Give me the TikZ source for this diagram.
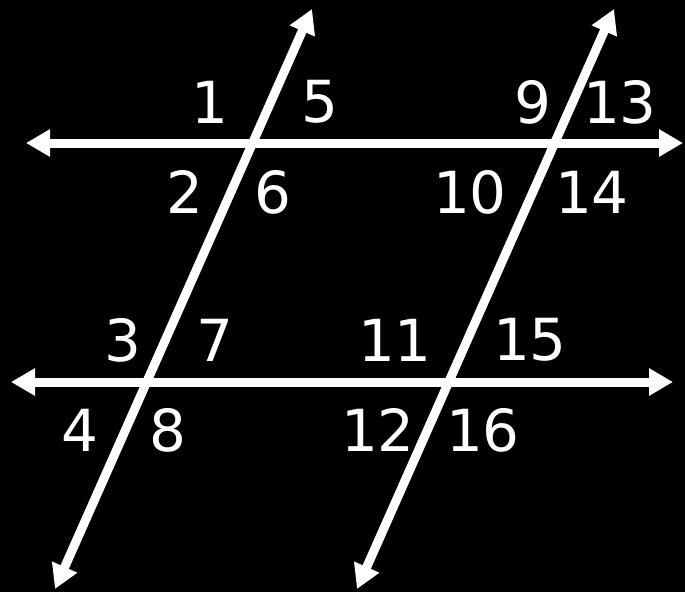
\documentclass[tikz,border=0pt]{standalone}
\usepackage{fontspec}
\setmainfont{DejaVu Sans}
\usetikzlibrary{arrows.meta}
\begin{document}
\begin{tikzpicture}[x=1pt,y=-1pt,
  ray/.style={draw=white,line width=9pt,{Triangle[length=24pt,width=26pt]}-{Triangle[length=24pt,width=26pt]}},
  lbl/.style={text=white,font=\fontsize{58}{58}\selectfont,inner sep=0pt,anchor=center}]
\fill[black] (0,0) rectangle (685,592);
\useasboundingbox (0,0) rectangle (685,592);
% end points
\coordinate (hTl) at (26,143);
\coordinate (hTr) at (683,143);
\coordinate (hBl) at (11,382);
\coordinate (hBr) at (673,382);
\coordinate (tLt) at (312,9);
\coordinate (tLb) at (55,589);
\coordinate (tRt) at (614,9);
\coordinate (tRb) at (357,589);
% lines
\draw[ray] (hTl) -- (hTr);
\draw[ray] (hBl) -- (hBr);
\draw[ray] (tLb) -- (tLt);
\draw[ray] (tRb) -- (tRt);
% labels
\node[lbl] (a1) at (210,102) {1};
\node[lbl] (a5) at (320,102) {5};
\node[lbl] (a2) at (185,192) {2};
\node[lbl] (a6) at (273,192) {6};
\node[lbl] (a9) at (533,102) {9};
\node[lbl] (a13) at (620,102) {13};
\node[lbl] (a10) at (470,192) {10};
\node[lbl] (a14) at (592,192) {14};
\node[lbl] (a3) at (123,340) {3};
\node[lbl] (a7) at (215,340) {7};
\node[lbl] (a4) at (80,430) {4};
\node[lbl] (a8) at (168,430) {8};
\node[lbl] (a11) at (395,340) {11};
\node[lbl] (a15) at (530,340) {15};
\node[lbl] (a12) at (378,430) {12};
\node[lbl] (a16) at (483,430) {16};
\end{tikzpicture}
\end{document}
